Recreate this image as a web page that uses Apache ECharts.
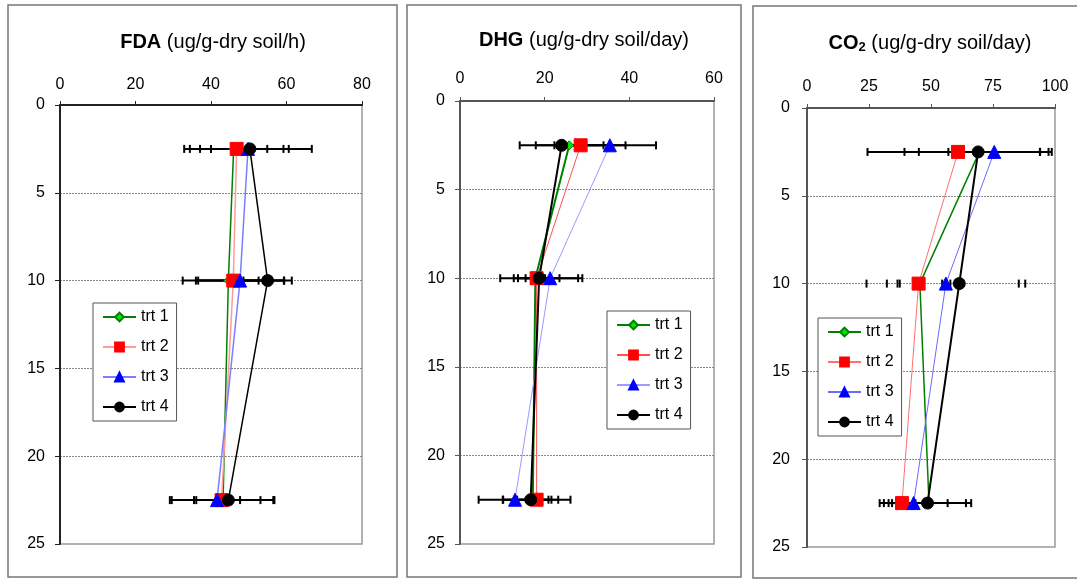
<!DOCTYPE html>
<html>
<head>
<meta charset="utf-8">
<script src="https://cdn.jsdelivr.net/npm/echarts@6/dist/echarts.min.js"></script>
<style>
  html, body { margin: 0; padding: 0; background: #fff; }
  #chart { width: 1077px; height: 579px; }
</style>
</head>
<body>
<div id="chart"></div>
<script>
//--------------------- Data ---------------------------//
const depths = [2.5, 10, 22.5];
const depthTicks = [0, 5, 10, 15, 20, 25];
const treatments = ['trt 1', 'trt 2', 'trt 3', 'trt 4'];

// FDA (ug/g-dry soil/h): one row per treatment, one value per depth
const fdaTicks = [0, 20, 40, 60, 80];
const fdaMean = [
  [46.0, 44.6, 43.2],
  [46.8, 45.9, 42.8],
  [49.8, 47.7, 41.6],
  [50.3, 55.0, 44.6]
];
const fdaErr = [
  [8.9, 8.0, 13.6],
  [12.4, 13.4, 13.7],
  [16.9, 11.7, 6.1],
  [10.3, 6.4, 8.5]
];

// DHG (ug/g-dry soil/day)
const dhgTicks = [0, 20, 40, 60];
const dhgMean = [
  [25.8, 17.8, 17.2],
  [28.5, 18.1, 18.1],
  [35.4, 21.3, 13.0],
  [24.0, 18.7, 16.7]
];
const dhgErr = [
  [3.5, 2.3, 3.7],
  [10.6, 5.4, 8.0],
  [10.9, 7.6, 8.6],
  [9.9, 9.2, 6.5]
];

// CO2 (ug/g-dry soil/day)
const co2Ticks = [0, 25, 50, 75, 100];
const co2Mean = [
  [69.5, 45.5, 49.2],
  [60.9, 45.0, 38.3],
  [75.5, 56.0, 43.0],
  [69.0, 61.4, 48.6]
];
const co2Err = [
  [24.4, 9.0, 14.9],
  [36.5, 12.8, 5.4],
  [18.5, 32.0, 13.7],
  [29.7, 24.0, 17.6]
];

//--------------------- Styles ---------------------------//
const font = '"Liberation Sans", Arial, sans-serif';
const symbols = ['diamond', 'rect', 'triangle', 'circle'];
const symbolSizes = [9, 13, 13, 12];
const markerFill = ['#00e600', '#ff0000', '#0000ff', '#000000'];
const markerBorder = ['#008000', '#ff0000', '#0000ff', '#000000'];

const panels = [
  {
    mean: fdaMean, err: fdaErr, ticks: fdaTicks,
    grid: { left: 60, top: 105, width: 302, height: 439 },
    title: { text: '{b|FDA} (ug/g-dry soil/h)', x: 208, y: 27 },
    legend: { left: 93, top: 303 },
    lineColors: ['#008000', '#ff9a9a', '#7d7dff', '#000000'],
    lineWidths: [1.5, 1.5, 1.5, 1.5],
    axisColor: '#222', xMargin: 12, yMargin: 15, faintDepth: null
  },
  {
    mean: dhgMean, err: dhgErr, ticks: dhgTicks,
    grid: { left: 460, top: 101, width: 254, height: 443 },
    title: { text: '{b|DHG} (ug/g-dry soil/day)', x: 579, y: 25 },
    legend: { left: 607, top: 311 },
    lineColors: ['#008000', '#ff5050', '#9a9aff', '#000000'],
    lineWidths: [2, 1, 1, 2],
    axisColor: '#555', xMargin: 14, yMargin: 15, faintDepth: null
  },
  {
    mean: co2Mean, err: co2Err, ticks: co2Ticks,
    grid: { left: 807, top: 108, width: 248, height: 439 },
    title: { text: '{b|CO}{sub|2} (ug/g-dry soil/day)', x: 925, y: 28 },
    legend: { left: 818, top: 318 },
    lineColors: ['#008000', '#ff7070', '#6a6aff', '#000000'],
    lineWidths: [1.5, 1, 1, 2],
    axisColor: '#555', xMargin: 13, yMargin: 17, faintDepth: 10
  }
];

//--------------------- Functions ---------------------------//
// Horizontal error bar with end caps
function errBarRenderer(faintDepth) {
  return function (params, api) {
    const d = api.value(2);
    const a = api.coord([api.value(0), d]);
    const b = api.coord([api.value(1), d]);
    const cap = 4;
    const st = { stroke: '#000', lineWidth: 2 };
    const kids = [
      { type: 'line', shape: { x1: a[0], y1: a[1] - cap, x2: a[0], y2: a[1] + cap }, style: st },
      { type: 'line', shape: { x1: b[0], y1: b[1] - cap, x2: b[0], y2: b[1] + cap }, style: st }
    ];
    if (d !== faintDepth) {
      kids.push({ type: 'line', shape: { x1: a[0], y1: a[1], x2: b[0], y2: b[1] }, style: st });
    }
    return { type: 'group', children: kids };
  };
}

const grids = [], xAxes = [], yAxes = [], series = [], titles = [], legends = [];

panels.forEach((p, i) => {
  grids.push(Object.assign({ show: true, borderColor: '#9a9a9a', borderWidth: 1.5, backgroundColor: 'transparent' }, p.grid));

  titles.push({
    text: p.title.text, left: p.title.x, top: p.title.y, textAlign: 'center',
    textStyle: {
      fontSize: 20, fontWeight: 'normal', color: '#000', fontFamily: font,
      rich: {
        b: { fontSize: 20, fontWeight: 'bold', color: '#000', fontFamily: font },
        sub: { fontSize: 13, fontWeight: 'bold', color: '#000', fontFamily: font, verticalAlign: 'bottom', padding: [8, 0, 0, 0] }
      }
    }
  });

  xAxes.push({
    gridIndex: i, type: 'value', position: 'top',
    min: p.ticks[0], max: p.ticks[p.ticks.length - 1], interval: p.ticks[1] - p.ticks[0],
    axisLine: { show: true, lineStyle: { color: p.axisColor, width: 2 } },
    axisTick: { show: true, length: 4, lineStyle: { color: p.axisColor, width: 1 } },
    axisLabel: { fontSize: 16, color: '#000', fontFamily: font, margin: p.xMargin },
    splitLine: { show: false }
  });

  yAxes.push({
    gridIndex: i, type: 'value', inverse: true,
    min: depthTicks[0], max: depthTicks[depthTicks.length - 1], interval: depthTicks[1] - depthTicks[0],
    axisLine: { show: true, lineStyle: { color: p.axisColor, width: 2 } },
    axisTick: { show: true, length: 5, lineStyle: { color: p.axisColor, width: 1 } },
    axisLabel: { fontSize: 16, color: '#000', fontFamily: font, margin: p.yMargin },
    splitLine: { show: true, showMinLine: false, showMaxLine: false, lineStyle: { color: '#8a8a8a', type: [2, 1], width: 1 } }
  });

  // error bars under the lines
  const errData = [];
  treatments.forEach((t, k) => {
    depths.forEach((d, j) => {
      errData.push([p.mean[k][j] - p.err[k][j], p.mean[k][j] + p.err[k][j], d]);
    });
  });
  series.push({
    type: 'custom', xAxisIndex: i, yAxisIndex: i, z: 2, silent: true,
    encode: { x: [0, 1], y: 2 },
    renderItem: errBarRenderer(p.faintDepth),
    data: errData
  });

  treatments.forEach((t, k) => {
    series.push({
      name: t + '#' + i, type: 'line', xAxisIndex: i, yAxisIndex: i, z: 3,
      symbol: symbols[k], symbolSize: symbolSizes[k],
      lineStyle: { color: p.lineColors[k], width: p.lineWidths[k] },
      itemStyle: { color: markerFill[k], borderColor: markerBorder[k], borderWidth: 1 },
      emphasis: { disabled: true },
      data: depths.map((d, j) => [p.mean[k][j], d])
    });
  });

  legends.push({
    data: treatments.map(t => t + '#' + i),
    formatter: name => name.split('#')[0],
    orient: 'vertical', left: p.legend.left, top: p.legend.top,
    padding: [6, 8, 6, 9], itemGap: 14, itemWidth: 33, itemHeight: 11,
    borderColor: '#555', borderWidth: 1, backgroundColor: '#fff',
    selectedMode: false,
    textStyle: { fontSize: 16, color: '#000', fontFamily: font }
  });
});

//--------------------- Main ---------------------------//
const myChart = echarts.init(document.getElementById('chart'));
myChart.setOption({
  animation: false,
  backgroundColor: '#fff',
  title: titles,
  grid: grids,
  xAxis: xAxes,
  yAxis: yAxes,
  legend: legends,
  series: series,
  graphic: [
    { type: 'rect', shape: { x: 8, y: 5, width: 389, height: 572 }, style: { fill: 'none', stroke: '#777', lineWidth: 1.5 }, z: -1 },
    { type: 'rect', shape: { x: 407, y: 5, width: 334, height: 572 }, style: { fill: 'none', stroke: '#777', lineWidth: 1.5 }, z: -1 },
    { type: 'rect', shape: { x: 753, y: 6, width: 340, height: 572 }, style: { fill: 'none', stroke: '#777', lineWidth: 1.5 }, z: -1 }
  ]
});
</script>
</body>
</html>
